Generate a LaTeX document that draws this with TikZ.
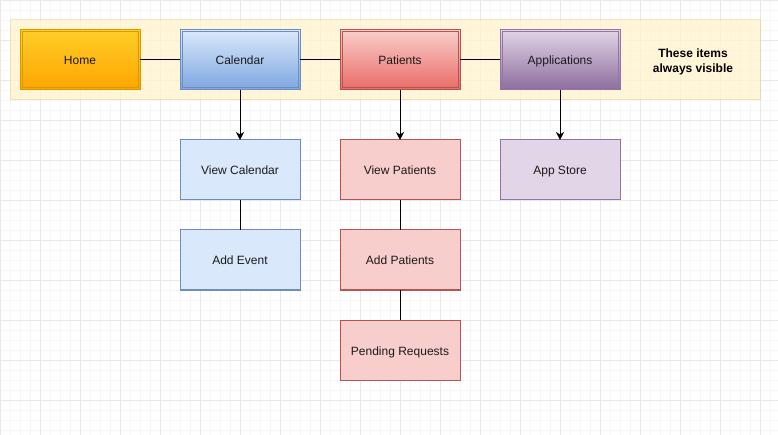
\documentclass[tikz,border=0pt]{standalone}
\usepackage{fontspec}
\setmainfont{Liberation Sans}
\usetikzlibrary{arrows.meta}
\definecolor{homeT}{HTML}{FFCD28}
\definecolor{homeB}{HTML}{FFA500}
\definecolor{homeD}{HTML}{D79B00}
\definecolor{blueT}{HTML}{DAE8FC}
\definecolor{blueB}{HTML}{7EA6E0}
\definecolor{blueD}{HTML}{6C8EBF}
\definecolor{redT}{HTML}{F8CECC}
\definecolor{redB}{HTML}{EA6B66}
\definecolor{redD}{HTML}{B85450}
\definecolor{purT}{HTML}{E1D5E7}
\definecolor{purB}{HTML}{8C6C9C}
\definecolor{purD}{HTML}{9673A6}
\definecolor{bandF}{HTML}{FFF2CC}
\definecolor{bandD}{HTML}{D6B656}
\definecolor{gridminor}{HTML}{F6F6F6}
\definecolor{gridmajor}{HTML}{E8E8E8}
\definecolor{txt}{HTML}{1A1A1A}
\begin{document}
\begin{tikzpicture}[x=1pt,y=-1pt,
  box/.style={rectangle, minimum width=120pt, minimum height=60pt, inner sep=0pt, outer sep=0pt,
    line width=1pt, text=txt, font=\fontsize{12}{14}\selectfont, text height=11pt, text depth=1pt},
  topbox/.style n args={3}{box, draw=#3, top color=#1, bottom color=#2,
    path picture={\draw[#3, line width=1pt] ([shift={(2pt,2pt)}]path picture bounding box.south west) rectangle ([shift={(-2pt,-2pt)}]path picture bounding box.north east);}},
  subbox/.style 2 args={box, draw=#2, fill=#1},
  link/.style={line width=1pt, black},
  arrow/.style={link, -{Stealth[length=8pt,width=8pt,inset=2.5pt]}}
]
\useasboundingbox (0,0) rectangle (778,435);
\fill[white] (0,0) rectangle (778,435);
\foreach \x in {0,10,...,770} \draw[gridminor, line width=0.8pt] (\x,0) -- (\x,435);
\foreach \y in {0,10,...,430} \draw[gridminor, line width=0.8pt] (0,\y) -- (778,\y);
\foreach \x in {0,40,...,760} \draw[gridmajor, line width=0.8pt] (\x,0) -- (\x,435);
\foreach \y in {0,40,...,400} \draw[gridmajor, line width=0.8pt] (0,\y) -- (778,\y);
\draw[gridmajor!80!black!30, line width=1.5pt] (0,0) -- (778,0);

\draw[fill=bandF, fill opacity=0.75, draw=bandD, draw opacity=0.3, line width=1pt] (10,20) rectangle (760,100);
\node[font=\bfseries\fontsize{12}{15}\selectfont, align=center, text=black] (note) at (693,62) {These items\\always visible};

\node[topbox={homeT}{homeB}{homeD}] (home) at (80,60) {Home};
\node[topbox={blueT}{blueB}{blueD}] (cal) at (240,60) {Calendar};
\node[topbox={redT}{redB}{redD}] (pat) at (400,60) {Patients};
\node[topbox={purT}{purB}{purD}] (app) at (560,60) {Applications};

\node[subbox={blueT}{blueD}] (vcal) at (240,170) {View Calendar};
\node[subbox={blueT}{blueD}] (addev) at (240,260) {Add Event};
\node[subbox={redT}{redD}] (vpat) at (400,170) {View Patients};
\node[subbox={redT}{redD}] (addpat) at (400,260) {Add Patients};
\node[subbox={redT}{redD}] (pend) at (400,350) {Pending Requests};
\node[subbox={purT}{purD}] (store) at (560,170) {App Store};

\draw[link] (home) -- (cal);
\draw[link] (cal) -- (pat);
\draw[link] (pat) -- (app);
\draw[arrow] (cal) -- (vcal);
\draw[arrow] (pat) -- (vpat);
\draw[arrow] (app) -- (store);
\draw[link] (vcal) -- (addev);
\draw[link] (vpat) -- (addpat);
\draw[link] (addpat) -- (pend);
\end{tikzpicture}
\end{document}
